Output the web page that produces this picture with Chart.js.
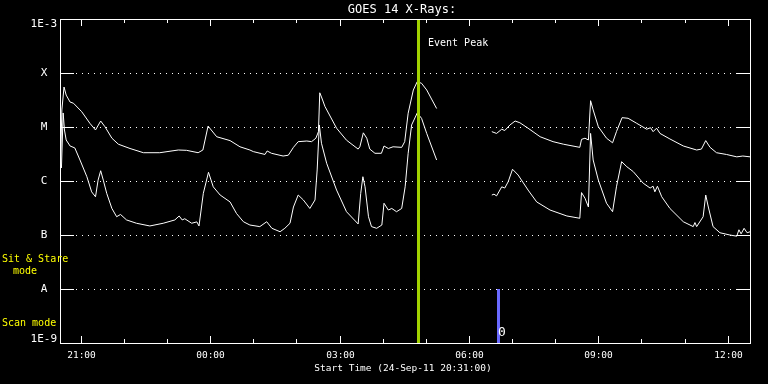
<!DOCTYPE html>
<html>
<head>
<meta charset="utf-8">
<script src="https://cdn.jsdelivr.net/npm/chart.js@4/dist/chart.umd.min.js"></script>
<style>
html, body { margin: 0; padding: 0; background: #000; }
</style>
</head>
<body>
<canvas id="goes" width="768" height="384"></canvas>
<script>
// times are clock hours; values >= 20 are on 24-Sep, the rest on 25-Sep. null flux = data gap
const longTimes = [20.53,20.56,20.61,20.66,20.75,20.83,21.02,21.21,21.34,21.46,21.56,21.72,21.87,22.14,22.45,22.83,23.26,23.45,23.72,23.83,23.95,
  0.15,0.46,0.69,0.92,1.00,1.27,1.32,1.42,1.69,1.81,1.93,2.04,2.24,2.35,2.45,2.51,2.54,2.58,2.66,2.93,3.16,3.43,3.47,3.55,3.63,3.70,3.82,3.97,
  4.03,4.13,4.24,4.44,4.51,4.59,4.71,4.80,4.90,5.02,5.25,
  6.0,
  6.53,6.64,6.76,6.83,6.95,7.07,7.18,7.37,7.65,7.95,8.19,8.57,8.61,8.69,8.77,8.82,8.88,9.00,9.19,9.33,9.42,9.55,9.69,9.89,
  10.12,10.21,10.27,10.35,10.43,10.66,10.97,11.28,11.39,11.49,11.59,11.74,11.97,12.21,12.35,12.52];
const longFlux = [2.15e-6,2.07e-5,5.5e-5,3.9e-5,2.9e-5,2.75e-5,1.92e-5,1.17e-5,8.8e-6,1.29e-5,1.01e-5,6.2e-6,4.8e-6,4.0e-6,3.34e-6,3.34e-6,3.75e-6,3.7e-6,3.34e-6,3.75e-6,1.04e-5,
  6.6e-6,5.6e-6,4.3e-6,3.75e-6,3.5e-6,3.1e-6,3.6e-6,3.26e-6,2.9e-6,3.0e-6,4.2e-6,5.35e-6,5.5e-6,5.35e-6,6.2e-6,8.2e-6,4.3e-5,3.6e-5,2.4e-5,9.5e-6,5.7e-6,3.9e-6,4.3e-6,7.8e-6,6.2e-6,3.9e-6,3.26e-6,3.26e-6,
  4.45e-6,4.0e-6,4.3e-6,4.2e-6,5.35e-6,1.8e-5,4.85e-5,6.9e-5,6.45e-5,4.85e-5,2.2e-5,
  null,
  8.2e-6,7.6e-6,9.1e-6,8.6e-6,1.09e-5,1.29e-5,1.2e-5,9.5e-6,6.6e-6,5.35e-6,4.8e-6,4.2e-6,5.9e-6,6.2e-6,5.75e-6,3.07e-5,2.07e-5,1.01e-5,6.2e-6,5.1e-6,8.2e-6,1.49e-5,1.45e-5,1.17e-5,
  9.1e-6,9.7e-6,8.2e-6,9.5e-6,7.6e-6,6.0e-6,4.45e-6,3.75e-6,3.9e-6,5.6e-6,4.2e-6,3.34e-6,3.1e-6,2.8e-6,2.9e-6,2.8e-6];

const shortTimes = [20.55,20.59,20.62,20.66,20.75,20.86,20.98,21.14,21.25,21.34,21.40,21.46,21.52,21.60,21.72,21.83,21.92,22.06,22.29,22.60,
  22.91,23.18,23.28,23.35,23.41,23.57,23.69,23.74,23.84,23.96,0.07,0.23,0.46,0.61,0.77,0.92,1.15,1.31,1.43,1.62,
  1.73,1.85,1.93,2.04,2.16,2.31,2.43,2.48,2.53,2.58,2.70,2.93,3.16,3.43,3.49,3.54,3.59,3.67,3.74,3.86,
  3.98,4.03,4.13,4.21,4.32,4.44,4.52,4.59,4.67,4.80,4.90,5.02,5.25,
  6.0,
  6.53,6.58,6.64,6.76,6.83,6.91,7.01,7.14,7.37,7.57,7.88,8.27,8.57,8.61,8.69,8.77,8.82,8.88,9.00,9.19,
  9.33,9.42,9.54,9.66,9.81,10.04,10.20,10.27,10.31,10.37,10.47,10.66,10.97,11.20,11.24,11.28,11.43,11.49,11.55,11.66,
  11.82,12.05,12.21,12.26,12.31,12.38,12.45,12.52];
const shortFlux = [1.74e-6,1.82e-5,8.8e-6,5.75e-6,4.45e-6,4.1e-6,2.45e-6,1.2e-6,6.3e-7,5.1e-7,1.04e-6,1.55e-6,1.04e-6,5.9e-7,3.1e-7,2.18e-7,2.4e-7,1.9e-7,1.65e-7,1.47e-7,
  1.65e-7,1.9e-7,2.25e-7,1.9e-7,2.0e-7,1.65e-7,1.75e-7,1.47e-7,5.9e-7,1.45e-6,7.8e-7,5.5e-7,4.1e-7,2.5e-7,1.76e-7,1.53e-7,1.43e-7,1.76e-7,1.33e-7,1.15e-7,
  1.33e-7,1.65e-7,3.3e-7,5.5e-7,4.45e-7,3.1e-7,4.45e-7,1.6e-6,1.09e-5,5.0e-6,2.13e-6,6.8e-7,2.7e-7,1.6e-7,5.9e-7,1.2e-6,7.8e-7,2.18e-7,1.43e-7,1.33e-7,
  1.53e-7,3.87e-7,2.9e-7,3.1e-7,2.7e-7,3.1e-7,7.8e-7,3.26e-6,1.09e-5,1.82e-5,1.45e-5,7.6e-6,2.45e-6,
  null,
  5.5e-7,5.7e-7,5.3e-7,7.8e-7,7.4e-7,9.7e-7,1.65e-6,1.29e-6,6.8e-7,4.1e-7,2.9e-7,2.25e-7,2.04e-7,6.1e-7,4.8e-7,3.3e-7,7.6e-6,2.45e-6,1.04e-6,3.87e-7,
  2.7e-7,7.8e-7,2.28e-6,1.84e-6,1.49e-6,9.1e-7,7.4e-7,8.0e-7,6.3e-7,8.0e-7,5.1e-7,3.1e-7,1.76e-7,1.43e-7,1.7e-7,1.43e-7,2.18e-7,5.5e-7,3.3e-7,1.43e-7,
  1.1e-7,1.0e-7,9.5e-8,1.25e-7,1.05e-7,1.33e-7,1.1e-7,1.15e-7];

const classLabels = ['X', 'M', 'C', 'B', 'A'];
const classFlux = [1e-4, 1e-5, 1e-6, 1e-7, 1e-8];
const hourTicks = [21, 22, 23, 0, 1, 2, 3, 4, 5, 6, 7, 8, 9, 10, 11, 12];
const startTime = 20 + 31 / 60;   // 24-Sep-11 20:31:00
const endTime = 12 + 31 / 60;
const eventPeakTime = 4.82;
const scanModeTime = 6.67;

const toAxis = t => (t >= 20 ? t - 24 : t);
const toPoints = (times, flux) => times.map((t, i) => ({ x: toAxis(t), y: flux[i] }));

const MONO = '"DejaVu Sans Mono", monospace';

const goesDecor = {
  id: 'goesDecor',
  beforeDraw(chart) {
    const ctx = chart.ctx;
    ctx.save();
    ctx.fillStyle = '#000';
    ctx.fillRect(0, 0, chart.width, chart.height);
    ctx.restore();
  },
  beforeDatasetsDraw(chart) {
    const { ctx, chartArea: a, scales: { y } } = chart;
    ctx.save();
    ctx.strokeStyle = '#fff';
    ctx.lineWidth = 1;
    classFlux.forEach(f => {
      const py = Math.round(y.getPixelForValue(f)) + 0.5;
      ctx.setLineDash([]);
      ctx.beginPath();
      ctx.moveTo(a.left, py); ctx.lineTo(a.left + 14, py);
      ctx.moveTo(a.right - 14, py); ctx.lineTo(a.right, py);
      ctx.stroke();
      ctx.setLineDash([1, 5]);
      ctx.beginPath();
      ctx.moveTo(a.left + 16, py); ctx.lineTo(a.right - 15, py);
      ctx.stroke();
    });
    ctx.restore();
  },
  afterDatasetsDraw(chart) {
    const { ctx, chartArea: a, scales: { x, y } } = chart;
    ctx.save();

    // event peak marker
    const gx = x.getPixelForValue(toAxis(eventPeakTime));
    ctx.fillStyle = '#a2d200';
    ctx.fillRect(Math.round(gx) - 1, a.top, 3, a.bottom - a.top);

    // scan mode marker
    const bx = x.getPixelForValue(toAxis(scanModeTime));
    const by = y.getPixelForValue(1e-8);
    ctx.fillStyle = '#6a6aff';
    ctx.fillRect(Math.round(bx) - 1, by, 3, a.bottom - by);
    ctx.fillStyle = '#fff';
    ctx.font = '13px ' + MONO;
    ctx.textAlign = 'center';
    ctx.textBaseline = 'middle';
    ctx.fillText('0', Math.round(bx) + 4, 333);

    // frame
    ctx.strokeStyle = '#fff';
    ctx.lineWidth = 1;
    ctx.strokeRect(a.left + 0.5, a.top + 0.5, a.right - a.left, a.bottom - a.top);

    // hour ticks and labels
    ctx.font = '9.5px ' + MONO;
    hourTicks.forEach(h => {
      const v = toAxis(h);
      const px = Math.round(x.getPixelForValue(v)) + 0.5;
      const major = h % 3 === 0;
      const len = major ? 7 : 4;
      ctx.beginPath();
      ctx.moveTo(px, a.bottom); ctx.lineTo(px, a.bottom - len);
      ctx.moveTo(px, a.top); ctx.lineTo(px, a.top + len);
      ctx.stroke();
      if (major) {
        ctx.fillText(String(h).padStart(2, '0') + ':00', px, 356);
      }
    });
    ctx.fillText('Start Time (24-Sep-11 20:31:00)', 403, 369);

    // flux class labels
    ctx.font = '11px ' + MONO;
    classFlux.forEach((f, i) => {
      ctx.fillText(classLabels[i], 44, y.getPixelForValue(f) + 0.5);
    });
    ctx.textAlign = 'right';
    ctx.fillText('1E-3', 57, 24);
    ctx.fillText('1E-9', 57, 339);

    // title and annotation
    ctx.textAlign = 'center';
    ctx.font = '12px ' + MONO;
    ctx.fillText('GOES 14 X-Rays:', 402, 10);
    ctx.textAlign = 'left';
    ctx.font = '10px ' + MONO;
    ctx.fillText('Event Peak', 428, 43);

    // mode labels
    ctx.fillStyle = '#ffff00';
    ctx.fillText('Sit & Stare', 2, 259);
    ctx.textAlign = 'center';
    ctx.fillText('mode', 25, 271);
    ctx.textAlign = 'left';
    ctx.fillText('Scan mode', 2, 323);

    ctx.restore();
  }
};

const lineStyle = { borderColor: '#fff', borderWidth: 1, pointRadius: 0, tension: 0, spanGaps: false, fill: false };

new Chart(document.getElementById('goes'), {
  type: 'line',
  data: {
    datasets: [
      { label: '1-8 A', data: toPoints(longTimes, longFlux), ...lineStyle },
      { label: '0.5-4 A', data: toPoints(shortTimes, shortFlux), ...lineStyle }
    ]
  },
  options: {
    responsive: false,
    animation: false,
    devicePixelRatio: 1,
    parsing: true,
    layout: { padding: { left: 60, right: 18, top: 19, bottom: 41 } },
    plugins: { legend: { display: false }, tooltip: { enabled: false }, title: { display: false } },
    scales: {
      x: { type: 'linear', min: toAxis(startTime), max: endTime, display: false },
      y: { type: 'logarithmic', min: 1e-9, max: 1e-3, display: false }
    }
  },
  plugins: [goesDecor]
});
</script>
</body>
</html>
